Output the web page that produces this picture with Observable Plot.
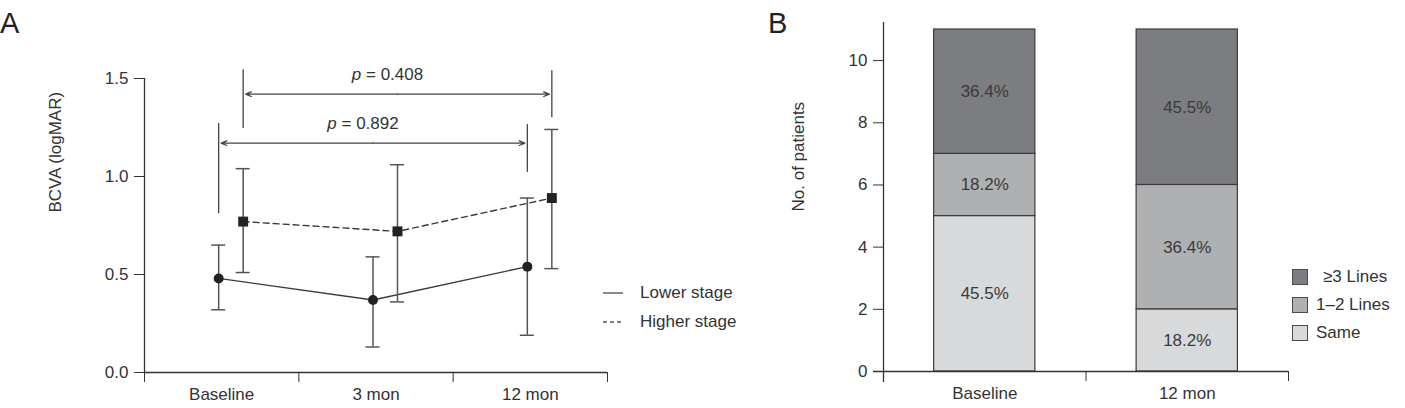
<!DOCTYPE html>
<html>
<head>
<meta charset="utf-8">
<script src="https://cdn.jsdelivr.net/npm/d3@7"></script>
<script src="https://cdn.jsdelivr.net/npm/@observablehq/plot@0.6"></script>
<style>
  body { margin: 0; background: #fff; }
  #figure { position: relative; width: 1405px; height: 408px; overflow: hidden;
            font-family: "Liberation Sans", Arial, Helvetica, sans-serif; color: #333; }
  .panel { position: absolute; top: 0; }
  .tag { position: absolute; font-size: 29px; line-height: 1; color: #222; }
  .key { position: absolute; height: 20px; line-height: 20px; font-size: 17px; color: #333;
         white-space: pre; }
  .key svg { position: absolute; left: 0; top: 0; }
  .swatch { position: absolute; left: 0; top: 2px; width: 14px; height: 14px;
            border: 1.2px solid #4a4a4a; }
</style>
</head>
<body>
<div id="figure"></div>
<script>
// ---------- Panel A: BCVA over follow-up, by stage ----------
const visits = ["Baseline", "3 mon", "12 mon"];
const stageNames = ["Lower stage", "Higher stage"];
const lowerMean = [0.48, 0.37, 0.54];
const lowerLow = [0.32, 0.13, 0.19];
const lowerHigh = [0.65, 0.59, 0.89];
const higherMean = [0.77, 0.72, 0.89];
const higherLow = [0.51, 0.36, 0.53];
const higherHigh = [1.04, 1.06, 1.24];
const yTicksA = [0, 0.5, 1.0, 1.5];

// Baseline vs 12 mon comparisons, drawn as bracketed arrows
const pValues = ["0.408", "0.892"];
const pStages = ["Higher stage", "Lower stage"];
const pLevels = [1.42, 1.17];
const pStemTops = [[1.545, 1.54], [1.27, 1.265]];
const pStemBottoms = [[1.245, 1.30], [0.81, 1.02]];

// ---------- Panel B: lines of improvement ----------
const timepoints = ["Baseline", "12 mon"];
const outcomes = ["Same", "1–2 Lines", "≥3 Lines"];
const sameCounts = [5, 2];
const oneToTwoCounts = [2, 4];
const threePlusCounts = [4, 5];
const outcomeColors = ["#d8d9db", "#afb0b2", "#7c7d80"];
const yTicksB = [0, 2, 4, 6, 8, 10];

const font = '"Liberation Sans", Arial, Helvetica, sans-serif';
const ink = "#333";
const figure = document.getElementById("figure");

// Stage-specific drawing: the two series sit side by side within each visit
const stageStyle = {
  "Lower stage": {dx: -3, symbol: "circle", r: 5, dash: undefined},
  "Higher stage": {dx: 21.5, symbol: "square", r: 5.6, dash: "6,4"}
};
const stageValues = {
  "Lower stage": [lowerMean, lowerLow, lowerHigh],
  "Higher stage": [higherMean, higherLow, higherHigh]
};
const series = Object.fromEntries(stageNames.map(s => [s,
  visits.map((v, i) => ({
    visit: v, pos: i + 0.5,
    mean: stageValues[s][0][i], low: stageValues[s][1][i], high: stageValues[s][2][i]
  }))
]));

const marksA = [
  Plot.ruleX([0], {stroke: ink, strokeWidth: 1.3}),
  Plot.ruleY([0], {stroke: ink, strokeWidth: 1.3}),
  Plot.axisY({ticks: yTicksA, tickFormat: d3.format(".1f"), tickSize: 10, tickPadding: 6, label: null}),
  Plot.axisX({ticks: [0, 1, 2, 3], tickSize: 10, tickFormat: () => "", label: null}),
  Plot.axisX({ticks: visits.map((v, i) => i + 0.5), tickSize: 0, tickPadding: 15,
              tickFormat: d => visits[Math.floor(d)], label: null}),
  Plot.text(["BCVA (logMAR)"], {frameAnchor: "left", dx: -89, dy: -13, rotate: -90, text: d => d, fill: ink})
];

for (const s of stageNames) {
  const st = stageStyle[s];
  const data = series[s];
  const bar = {stroke: "#555", strokeWidth: 1.5, dx: st.dx};
  marksA.push(
    Plot.ruleX(data, {x: "pos", y1: "low", y2: "high", ...bar}),
    Plot.ruleY(data, {y: "low", x1: "pos", x2: "pos", insetLeft: -7, insetRight: -7, ...bar}),
    Plot.ruleY(data, {y: "high", x1: "pos", x2: "pos", insetLeft: -7, insetRight: -7, ...bar}),
    Plot.line(data, {x: "pos", y: "mean", dx: st.dx, stroke: "#3a3a3a", strokeWidth: 1.4,
                     strokeDasharray: st.dash}),
    Plot.dot(data, {x: "pos", y: "mean", dx: st.dx, symbol: st.symbol, r: st.r, fill: "#222", stroke: "none"})
  );
}

pValues.forEach((p, k) => {
  const st = stageStyle[pStages[k]];
  const from = visits.indexOf("Baseline") + 0.5;
  const to = visits.indexOf("12 mon") + 0.5;
  const stems = [from, to].map((pos, j) => ({pos, top: pStemTops[k][j], bottom: pStemBottoms[k][j]}));
  const span = [{from, to, mid: (from + to) / 2, level: pLevels[k], label: `p = ${p}`}];
  const arrow = {bend: 0, headLength: 7, headAngle: 45, insetEnd: 2.5, stroke: "#444", strokeWidth: 1.3, dx: st.dx};
  marksA.push(
    Plot.ruleX(stems, {x: "pos", y1: "bottom", y2: "top", dx: st.dx, stroke: "#444", strokeWidth: 1.3}),
    Plot.arrow(span, {x1: "mid", x2: "from", y1: "level", y2: "level", ...arrow}),
    Plot.arrow(span, {x1: "mid", x2: "to", y1: "level", y2: "level", ...arrow}),
    Plot.text(span, {x: "mid", y: "level", text: "label", dx: st.dx - 10, dy: -20, fill: ink})
  );
});

const plotA = Plot.plot({
  width: 760, height: 408,
  marginLeft: 144, marginRight: 153, marginTop: 78, marginBottom: 36,
  x: {type: "linear", domain: [0, 3]},
  y: {domain: [0, 1.5]},
  style: {fontFamily: font, fontSize: "17px", color: ink, background: "transparent", overflow: "visible"},
  marks: marksA
});

// italic test statistic symbol in the comparison labels
plotA.querySelectorAll("text").forEach(t => {
  if (/^p = /.test(t.textContent)) {
    const rest = t.textContent.slice(1);
    t.textContent = "";
    const it = document.createElementNS("http://www.w3.org/2000/svg", "tspan");
    it.setAttribute("font-style", "italic");
    it.textContent = "p";
    t.append(it, rest);
  }
});
plotA.classList.add("panel");
plotA.style.left = "0px";
figure.append(plotA);

// ---------- Panel B ----------
const outcomeCounts = [sameCounts, oneToTwoCounts, threePlusCounts];
const stacked = timepoints.flatMap((t, i) => {
  const total = d3.sum(outcomeCounts, c => c[i]);
  let base = 0;
  return outcomes.map((o, k) => {
    const n = outcomeCounts[k][i];
    const row = {time: t, outcome: o, x1: i + 0.25, x2: i + 0.75, y1: base, y2: base + n,
                 share: (n / total * 100).toFixed(1) + "%"};
    base += n;
    return row;
  });
});

const plotB = Plot.plot({
  width: 645, height: 408,
  marginLeft: 123, marginRight: 117, marginTop: 29, marginBottom: 37,
  x: {type: "linear", domain: [0, timepoints.length]},
  y: {domain: [0, 11]},
  color: {domain: outcomes, range: outcomeColors},
  style: {fontFamily: font, fontSize: "17px", color: ink, background: "transparent", overflow: "visible"},
  marks: [
    Plot.rect(stacked, {x1: "x1", x2: "x2", y1: "y1", y2: "y2", fill: "outcome", stroke: "#3c3c3c", strokeWidth: 1.2}),
    Plot.text(stacked, {x: d => (d.x1 + d.x2) / 2, y: d => (d.y1 + d.y2) / 2, text: "share", fill: "#3a3a3a"}),
    Plot.ruleX([0], {insetTop: -7, insetBottom: -11, stroke: ink, strokeWidth: 1.3}),
    Plot.ruleY([0], {insetLeft: -10, stroke: ink, strokeWidth: 1.3}),
    Plot.axisY({ticks: yTicksB, tickSize: 10, tickPadding: 6, label: null}),
    Plot.axisX({ticks: d3.range(1, timepoints.length + 1), tickSize: 10, tickFormat: () => "", label: null}),
    Plot.axisX({ticks: timepoints.map((t, i) => i + 0.5), tickSize: 0, tickPadding: 15,
                tickFormat: d => timepoints[Math.floor(d)], label: null}),
    Plot.text(["No. of patients"], {frameAnchor: "left", dx: -85, dy: 11, rotate: -90, text: d => d, fill: ink})
  ]
});
plotB.classList.add("panel");
plotB.style.left = "760px";
figure.append(plotB);

// ---------- Panel tags and keys ----------
function tag(text, left, top) {
  const el = document.createElement("div");
  el.className = "tag";
  el.textContent = text;
  el.style.left = left + "px";
  el.style.top = top + "px";
  figure.append(el);
}
tag("A", 0, 8.5);
tag("B", 768, 8.5);

// line-style key for panel A
stageNames.forEach((s, k) => {
  const row = document.createElement("div");
  row.className = "key";
  row.style.left = "603px";
  row.style.top = (283 + k * 29) + "px";
  row.style.paddingLeft = "37px";
  const dash = k === 0 ? "" : 'stroke-dasharray="4,3"';
  row.innerHTML = `<svg width="22" height="20"><line x1="0" x2="20" y1="10" y2="10" stroke="#555" stroke-width="1.4" ${dash}/></svg>`;
  row.append(document.createTextNode(s));
  figure.append(row);
});

// fill key for panel B, darkest first
outcomes.slice().reverse().forEach((o, k) => {
  const row = document.createElement("div");
  row.className = "key";
  row.style.left = "1292px";
  row.style.top = (267 + k * 28) + "px";
  row.style.paddingLeft = o.startsWith("≥") ? "31px" : "24px";
  const sw = document.createElement("div");
  sw.className = "swatch";
  sw.style.background = outcomeColors[outcomes.indexOf(o)];
  row.append(sw, document.createTextNode(o));
  figure.append(row);
});
</script>
</body>
</html>
